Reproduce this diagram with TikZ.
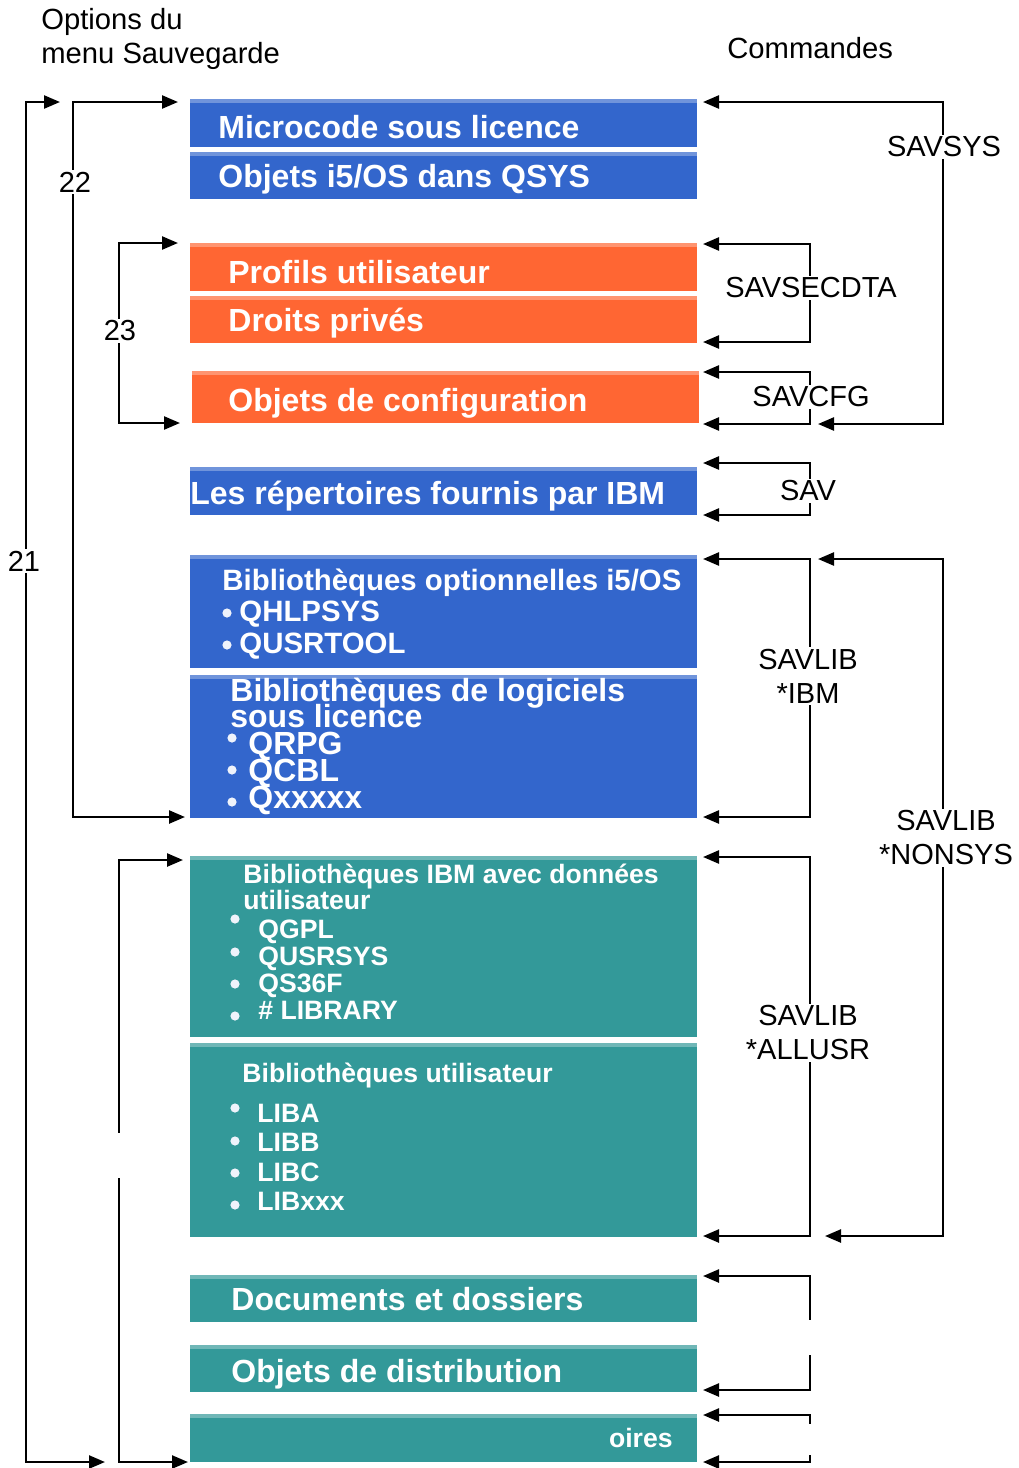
\documentclass[tikz,border=0pt]{standalone}
\usepackage{fontspec}
\setmainfont{Liberation Sans}
\usetikzlibrary{shapes, arrows, arrows.meta, positioning, fit}
\definecolor{ibmbleu}{HTML}{3366CC}
\definecolor{ibmorange}{HTML}{FF6633}
\definecolor{ibmvert}{HTML}{339999}
\tikzstyle{bloc} = [rectangle, inner sep=0pt, path picture={\fill[white, opacity=0.3] (path picture bounding box.north west) rectangle ([yshift=-2pt]path picture bounding box.north east);}]
\tikzstyle{blocbleu} = [bloc, fill=ibmbleu]
\tikzstyle{blocorange} = [bloc, fill=ibmorange]
\tikzstyle{blocvert} = [bloc, fill=ibmvert]
\tikzstyle{titre} = [text=white, inner sep=0pt, anchor=base west, font=\bfseries\fontsize{16}{16}\selectfont]
\tikzstyle{titremoyen} = [titre, font=\bfseries\fontsize{14.7}{14.7}\selectfont]
\tikzstyle{titrepetit} = [titre, font=\bfseries\fontsize{13.3}{13.3}\selectfont]
\tikzstyle{puce} = [circle, fill=white!92!ibmbleu, inner sep=0pt, minimum size=4.6pt]
\tikzstyle{commande} = [fill=white, inner sep=1pt, align=center, font=\fontsize{14.5}{17}\selectfont]
\tikzstyle{entete} = [inner sep=0pt, anchor=base west, font=\fontsize{14.6}{17}\selectfont]
\tikzstyle{fleche} = [line width=1.2pt]

\begin{document}
\begin{tikzpicture}[x=0.5pt, y=-0.5pt, >={Triangle[length=8pt,width=6.5pt]}]
	\useasboundingbox (0,0) rectangle (1018,1468);
	% colonnes
	\coordinate (colA) at (810,0);
	\coordinate (colB) at (943,0);
	\coordinate (col21) at (26,0);
	\coordinate (col22) at (73,0);
	\coordinate (col23) at (119,0);
	
	\node[entete] (options) at (41,29) {Options du};
	\node[entete] (menu) at (41,63) {menu Sauvegarde};
	\node[entete] (commandes) at (727,58) {Commandes};
	
	% blocs
	\node[blocbleu, fit={(190,99) (697,147)}] (micro) {};
	\node[blocbleu, fit={(190,152) (697,199)}] (qsys) {};
	\node[blocorange, fit={(190,243) (697,291)}] (profils) {};
	\node[blocorange, fit={(190,296) (697,343)}] (droits) {};
	\node[blocorange, fit={(192,371) (699,423)}] (config) {};
	\node[blocbleu, fit={(190,467) (697,515)}] (repert) {};
	\node[blocbleu, fit={(190,555) (697,668)}] (option) {};
	\node[blocbleu, fit={(190,675) (697,818)}] (logic) {};
	\node[blocvert, fit={(190,856) (697,1037)}] (ibmdon) {};
	\node[blocvert, fit={(190,1043) (697,1237)}] (biblu) {};
	\node[blocvert, fit={(190,1275) (697,1322)}] (docs) {};
	\node[blocvert, fit={(190,1345) (697,1392)}] (distrib) {};
	\node[blocvert, fit={(190,1414) (697,1462)}] (oires) {};
	
	\node[titre] (tmicro) at (218,138) {Microcode sous licence};
	\node[titre] (tqsys) at (218,187) {Objets i5/OS dans QSYS};
	\node[titre] (tprofils) at (228,283) {Profils utilisateur};
	\node[titre] (tdroits) at (228,331) {Droits privés};
	\node[titre] (tconfig) at (228,411) {Objets de configuration};
	\node[titre] (trepert) at (190,504) {Les répertoires fournis par IBM};
	
	\node[titremoyen] (toption) at (222,590) {Bibliothèques optionnelles i5/OS};
	\node[titremoyen] (thlp) at (239,621) {QHLPSYS};
	\node[titremoyen] (tusrtool) at (239,653) {QUSRTOOL};
	\node[puce] (p1) at (227,613) {};
	\node[puce] (p2) at (227,645) {};
	
	\node[titre] (tlogic1) at (230,701) {Bibliothèques de logiciels};
	\node[titre] (tlogic2) at (230,727) {sous licence};
	\node[titre] (trpg) at (248,754) {QRPG};
	\node[titre] (tcbl) at (248,781) {QCBL};
	\node[titre] (tqx) at (248,808) {Qxxxxx};
	\node[puce] (p3) at (232,738) {};
	\node[puce] (p4) at (232,770) {};
	\node[puce] (p5) at (232,802) {};
	
	\node[titrepetit] (tibm1) at (243,883) {Bibliothèques IBM avec données};
	\node[titrepetit] (tibm2) at (243,909) {utilisateur};
	\node[titrepetit] (tgpl) at (258,938) {QGPL};
	\node[titrepetit] (tusrsys) at (258,965) {QUSRSYS};
	\node[titrepetit] (ts36) at (258,992) {QS36F};
	\node[titrepetit] (tlibrary) at (258,1019) {\# LIBRARY};
	\node[puce] (p6) at (235,919) {};
	\node[puce] (p7) at (235,952) {};
	\node[puce] (p8) at (235,984) {};
	\node[puce] (p9) at (235,1016) {};
	
	\node[titrepetit] (tbiblu) at (242,1082) {Bibliothèques utilisateur};
	\node[titrepetit] (tliba) at (257,1122) {LIBA};
	\node[titrepetit] (tlibb) at (257,1151) {LIBB};
	\node[titrepetit] (tlibc) at (257,1181) {LIBC};
	\node[titrepetit] (tlibx) at (257,1210) {LIBxxx};
	\node[puce] (p10) at (235,1108) {};
	\node[puce] (p11) at (235,1141) {};
	\node[puce] (p12) at (235,1173) {};
	\node[puce] (p13) at (235,1205) {};
	
	\node[titre] (tdocs) at (231,1310) {Documents et dossiers};
	\node[titre] (tdistrib) at (231,1382) {Objets de distribution};
	\node[titrepetit, anchor=base east] (toires) at (673,1447) {oires};
	
	% extremites des fleches, gauche
	\coordinate (o21a) at (60,102);
	\coordinate (o21b) at (105,1462);
	\coordinate (o22a) at (178,102);
	\coordinate (o22b) at (185,817);
	\coordinate (o23a) at (178,243);
	\coordinate (o23b) at (180,423);
	\coordinate (o24a) at (183,860);
	\coordinate (o24b) at (188,1462);
	% extremites des fleches, droite
	\coordinate (c1a) at (703,102);
	\coordinate (c1b) at (818,424);
	\coordinate (c2a) at (703,244);
	\coordinate (c2b) at (703,342);
	\coordinate (c3a) at (703,372);
	\coordinate (c3b) at (703,424);
	\coordinate (c4a) at (703,463);
	\coordinate (c4b) at (703,515);
	\coordinate (c5a) at (703,559);
	\coordinate (c5b) at (703,817);
	\coordinate (c6a) at (818,559);
	\coordinate (c6b) at (825,1236);
	\coordinate (c7a) at (703,857);
	\coordinate (c7b) at (703,1236);
	\coordinate (c8a) at (703,1276);
	\coordinate (c8b) at (703,1390);
	\coordinate (c9a) at (703,1415);
	\coordinate (c9b) at (703,1462);
	
	\draw[fleche, <->] (o21a) -- (o21a -| col21) -- (o21b -| col21) -- (o21b);
	\draw[fleche, <->] (o22a) -- (o22a -| col22) -- (o22b -| col22) -- (o22b);
	\draw[fleche, <->] (o23a) -- (o23a -| col23) -- (o23b -| col23) -- (o23b);
	\draw[fleche, <-] (o24a) -- (o24a -| col23) -- ++(0,273);
	\draw[fleche, <-] (o24b) -- (o24b -| col23) -- ++(0,-284);
	
	\draw[fleche, <->] (c1a) -- (c1a -| colB) -- (c1b -| colB) -- (c1b);
	\draw[fleche, <->] (c2a) -- (c2a -| colA) -- (c2b -| colA) -- (c2b);
	\draw[fleche, <->] (c3a) -- (c3a -| colA) -- (c3b -| colA) -- (c3b);
	\draw[fleche, <->] (c4a) -- (c4a -| colA) -- (c4b -| colA) -- (c4b);
	\draw[fleche, <->] (c5a) -- (c5a -| colA) -- (c5b -| colA) -- (c5b);
	\draw[fleche, <->] (c6a) -- (c6a -| colB) -- (c6b -| colB) -- (c6b);
	\draw[fleche, <->] (c7a) -- (c7a -| colA) -- (c7b -| colA) -- (c7b);
	\draw[fleche, <-] (c8a) -- (c8a -| colA) -- ++(0,44);
	\draw[fleche, <-] (c8b) -- (c8b -| colA) -- ++(0,-35);
	\draw[fleche, <-] (c9a) -- (c9a -| colA) -- ++(0,9);
	\draw[fleche, <-] (c9b) -- (c9b -| colA) -- ++(0,-7);
	
	\node[commande] (n21) at (24,561) {21};
	\node[commande] (n22) at (75,182) {22};
	\node[commande] (n23) at (120,331) {23};
	\node[commande] (savsys) at (944,147) {SAVSYS};
	\node[commande] (savsecdta) at (811,288) {SAVSECDTA};
	\node[commande] (savcfg) at (811,397) {SAVCFG};
	\node[commande] (sav) at (808,491) {SAV};
	\node[commande] (savibm) at (808,676) {SAVLIB\\*IBM};
	\node[commande] (savnonsys) at (946,838) {SAVLIB\\*NONSYS};
	\node[commande] (savallusr) at (808,1033) {SAVLIB\\*ALLUSR};
\end{tikzpicture}
\end{document}
